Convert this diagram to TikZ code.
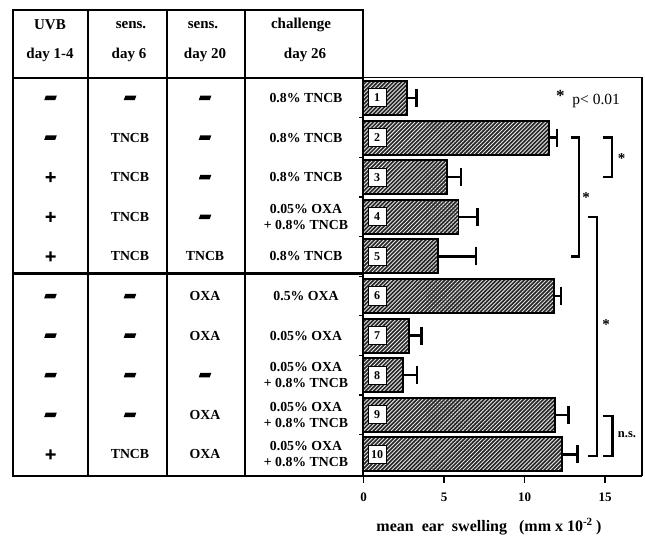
\documentclass[tikz,border=0pt]{standalone}
\usepackage{fontspec}
\setmainfont{Liberation Serif}
\usetikzlibrary{patterns.meta}
\newcommand\Dm{\tikz\fill[xslant=0.35] (0pt,0pt) rectangle (11pt,4.5pt);}
\newcommand\Pl{\tikz\fill (-5pt,-1.1pt) rectangle (5pt,1.1pt) (-1.1pt,-5pt) rectangle (1.1pt,5pt);}
\begin{document}
\begin{tikzpicture}[x=1pt,y=-1pt,
  tbl/.style={line width=2.6pt},
  tbli/.style={line width=2.2pt},
  cell/.style={font=\fontsize{13.8}{16}\selectfont\bfseries, align=center, inner sep=0pt},
  head/.style={font=\fontsize{15}{16}\selectfont\bfseries, inner sep=0pt},
  numbox/.style={draw, line width=1pt, fill=white, minimum width=18pt, minimum height=18pt, inner sep=0pt, font=\fontsize{12}{12}\selectfont\bfseries},
  barfill/.style={fill=black!85},
  barhatch/.style={pattern={Lines[angle=45,distance=2.8pt,line width=0.9pt]}, pattern color=white!90!black},
  barline/.style={line width=1.9pt},
  errbar/.style={line width=2.4pt},
  brk/.style={line width=2.4pt},
  sig/.style={font=\fontsize{15}{15}\selectfont\bfseries, inner sep=0pt},
  ticklbl/.style={font=\fontsize{13}{13}\selectfont\bfseries, inner sep=0pt},
]
\useasboundingbox (0,0) rectangle (645,537);

% ---- table frame ----
\draw[tbl] (13,10) rectangle (363,476);
\draw[tbli] (88,10) -- (88,476);
\draw[tbli] (167,10) -- (167,476);
\draw[tbl] (245,10) -- (245,476);
\draw[tbl] (13,78) -- (363,78);
\draw[tbl] (13,273.5) -- (363,273.5);

% ---- header ----
\node[head] (h1a) at (50,25) {UVB};
\node[head] (h1b) at (50,55) {day 1-4};
\node[head] (h2a) at (131,25) {sens.};
\node[head] (h2b) at (129,55) {day 6};
\node[head] (h3a) at (203,25) {sens.};
\node[head] (h3b) at (205,55) {day 20};
\node[head] (h4a) at (301,25) {challenge};
\node[head] (h4b) at (305,55) {day 26};

% ---- table rows ----
\foreach \i/\colA/\colB/\colC/\colD in {
 1/\Dm/\Dm/\Dm/{0.8\% TNCB},
 2/\Dm/TNCB/\Dm/{0.8\% TNCB},
 3/\Pl/TNCB/\Dm/{0.8\% TNCB},
 4/\Pl/TNCB/\Dm/{0.05\% OXA\\+ 0.8\% TNCB},
 5/\Pl/TNCB/TNCB/{0.8\% TNCB},
 6/\Dm/\Dm/OXA/{0.5\% OXA},
 7/\Dm/\Dm/OXA/{0.05\% OXA},
 8/\Dm/\Dm/\Dm/{0.05\% OXA\\+ 0.8\% TNCB},
 9/\Dm/\Dm/OXA/{0.05\% OXA\\+ 0.8\% TNCB},
 10/\Pl/TNCB/OXA/{0.05\% OXA\\+ 0.8\% TNCB}}{
 \pgfmathsetmacro\yc{98+(\i-1)*39.6}
 \node[cell] (a\i) at (50.5,\yc) {\colA};
 \node[cell] (b\i) at (130,\yc) {\colB};
 \node[cell] (c\i) at (205,\yc) {\colC};
 \node[cell] (d\i) at (306,\yc) {\colD};
}

% ---- chart frame ----
\draw[line width=1.6pt] (363,77.5) -- (642,77.5) -- (642,476);
\draw[line width=2pt] (362,476) -- (642,476);
\draw[line width=2.4pt] (363,77.5) -- (363,477);

% ---- bars ----
\foreach \i/\v/\e in {1/2.68/3.3, 2/11.5/12.0, 3/5.17/6.04, 4/5.9/7.07, 5/4.65/7.0,
  6/11.85/12.27, 7/2.83/3.6, 8/2.43/3.34, 9/11.9/12.74, 10/12.35/13.28}{
 \pgfmathsetmacro\yc{98+(\i-1)*39.6}
 \pgfmathsetmacro\xe{363.5+16.1*\v}
 \pgfmathsetmacro\xr{363.5+16.1*\e}
 \draw[errbar] (\xe,\yc) -- (\xr,\yc) (\xr,\yc-9) -- (\xr,\yc+9);
 \fill[barfill] (363,\yc-17) rectangle (\xe,\yc+17);
 \fill[barhatch] (363,\yc-17) rectangle (\xe,\yc+17);
 \draw[barline] (363,\yc-17) rectangle (\xe,\yc+17);
 \node[numbox] (n\i) at (377,\yc) {\i};
}

% ---- y ticks ----
\foreach \k in {1,...,9}{
 \draw[line width=1.3pt] (359,{98+(\k-0.5)*39.6}) -- (363,{98+(\k-0.5)*39.6});
}

% ---- x axis ----
\foreach \v in {0,5,10,15}{
 \draw[line width=1.7pt] ({363.5+16.1*\v},476) -- ({363.5+16.1*\v},483);
 \node[ticklbl] (t\v) at ({363.5+16.1*\v},497) {\v};
}
\node[font=\fontsize{16}{16}\selectfont\bfseries, inner sep=0pt] (xlab) at (489,527)
 {mean\ \ ear\ \ swelling\ \ \ (mm x 10\raisebox{6pt}{\fontsize{11}{11}\selectfont -2}\ )};

% ---- significance ----
\node[font=\fontsize{15.5}{15.5}\selectfont, inner sep=0pt] (pval) at (588,99)
 {\raisebox{3pt}{\fontsize{17}{17}\selectfont\textbf{*}}\ \ p< 0.01};

\draw[brk] (602.7,137.6) -- (611.7,137.6) -- (611.7,177.2) -- (602.7,177.2);
\node[sig] (s1) at (621.7,159) {*};
\draw[brk] (570.7,137.6) -- (579,137.6) -- (579,256.4) -- (570.7,256.4);
\node[sig] (s2) at (586,198) {*};
\draw[brk] (588,216.8) -- (596.7,216.8) -- (596.7,456) -- (588,456);
\node[sig] (s3) at (606,325) {*};
\draw[brk] (602.7,416) -- (612.3,416) -- (612.3,456) -- (602.7,456);
\node[font=\fontsize{12.5}{12.5}\selectfont\bfseries, inner sep=0pt] (ns) at (627,435) {n.s.};
\end{tikzpicture}
\end{document}
